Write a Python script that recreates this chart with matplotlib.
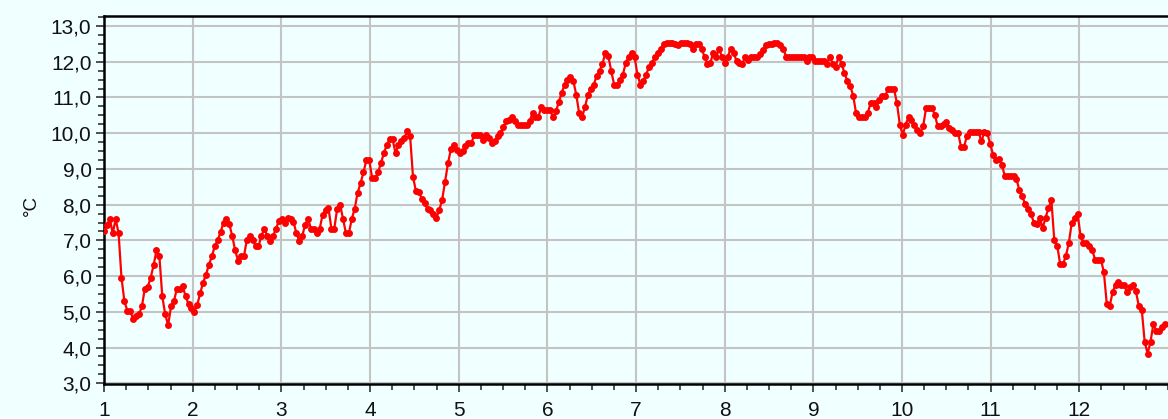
import numpy as np
import matplotlib
matplotlib.use("Agg")
import matplotlib.pyplot as plt
from matplotlib.ticker import MultipleLocator, FixedLocator, FuncFormatter

# Daily temperature values (°C), Jan 1 .. Dec 31
temps_q1 = [
    7.26, 7.42, 7.6, 7.2, 7.6, 7.2, 5.95, 5.3, 5.03, 5.03,
    4.8, 4.87, 4.93, 5.15, 5.65, 5.7, 5.95, 6.3, 6.72, 6.55,
    5.43, 4.93, 4.63, 5.15, 5.3, 5.65, 5.65, 5.72, 5.43, 5.22,
    5.1, 5.0, 5.2, 5.52, 5.82, 6.04, 6.32, 6.55, 6.84, 7.0,
    7.23, 7.5, 7.6, 7.45, 7.12, 6.72, 6.43, 6.55, 6.55, 7.02,
    7.12, 7.02, 6.84, 6.84, 7.12, 7.33, 7.12, 6.98, 7.12, 7.33,
    7.54, 7.6, 7.5, 7.63, 7.6, 7.52, 7.2, 6.99, 7.12, 7.44,
    7.6, 7.33, 7.33, 7.2, 7.33, 7.72, 7.84, 7.91, 7.33, 7.33,
    7.89, 8.0, 7.6, 7.2, 7.2, 7.6, 7.89, 8.33, 8.6, 8.9,
    9.24, 9.24, 8.74, 8.74, 8.9,
]
temps_q2 = [
    9.16, 9.44, 9.67, 9.83, 9.83, 9.44, 9.67, 9.77, 9.86, 10.05,
    9.93, 8.78, 8.38, 8.36, 8.17, 8.05, 7.87, 7.84, 7.75, 7.63,
    7.84, 8.14, 8.64, 9.16, 9.55, 9.67, 9.53, 9.44, 9.49, 9.63,
    9.72, 9.72, 9.95, 9.95, 9.95, 9.81, 9.95, 9.86, 9.72, 9.77,
    9.91, 10.0, 10.17, 10.33, 10.36, 10.45, 10.33, 10.24, 10.22, 10.22,
    10.24, 10.33, 10.56, 10.45, 10.45, 10.73, 10.66, 10.66, 10.66, 10.45,
    10.61, 10.86, 11.13, 11.36, 11.5, 11.57, 11.46, 11.08, 10.56, 10.45,
    10.73, 11.08, 11.24, 11.36, 11.6, 11.74, 11.94, 12.25, 12.16, 11.74,
    11.36, 11.36, 11.5, 11.64, 11.97, 12.14, 12.25, 12.14, 11.64, 11.36,
    11.46, 11.64,
]
temps_q3 = [
    11.86, 11.97, 12.14, 12.25, 12.35, 12.49, 12.52, 12.52, 12.52, 12.49,
    12.46, 12.52, 12.53, 12.52, 12.49, 12.37, 12.49, 12.49, 12.37, 12.14,
    11.95, 11.97, 12.25, 12.14, 12.35, 12.14, 11.97, 12.14, 12.37, 12.25,
    12.02, 11.97, 11.95, 12.14, 12.05, 12.14, 12.14, 12.14, 12.23, 12.33,
    12.46, 12.49, 12.5, 12.53, 12.52, 12.46, 12.37, 12.14, 12.14, 12.14,
    12.14, 12.14, 12.14, 12.14, 12.02, 12.14, 12.14, 12.02, 12.02, 12.02,
    12.02, 11.95, 12.14, 11.95, 11.86, 12.14, 11.95, 11.69, 11.46, 11.32,
    11.05, 10.56, 10.45, 10.45, 10.45, 10.56, 10.85, 10.85, 10.73, 10.92,
    11.05, 11.05, 11.24, 11.24, 11.24, 10.85, 10.24, 9.95, 10.24, 10.45,
    10.36, 10.24, 10.08,
]
temps_q4 = [
    10.0, 10.19, 10.7, 10.7, 10.7, 10.52, 10.19, 10.19, 10.25, 10.31,
    10.15, 10.1, 10.0, 10.0, 9.62, 9.62, 9.91, 10.03, 10.03, 10.03,
    10.03, 9.77, 10.03, 10.0, 9.7, 9.4, 9.24, 9.29, 9.12, 8.8,
    8.8, 8.8, 8.8, 8.73, 8.4, 8.24, 8.01, 7.87, 7.73, 7.5,
    7.45, 7.64, 7.34, 7.64, 7.9, 8.12, 7.0, 6.85, 6.34, 6.34,
    6.57, 6.94, 7.5, 7.62, 7.73, 7.13, 6.94, 6.94, 6.83, 6.73,
    6.46, 6.46, 6.46, 6.11, 5.22, 5.16, 5.55, 5.76, 5.83, 5.74,
    5.74, 5.55, 5.69, 5.74, 5.57, 5.16, 5.06, 4.16, 3.83, 4.16,
    4.67, 4.46, 4.46, 4.57, 4.67,
]
month_ticks = list(range(1, 13))
month_labels = [str(m) for m in month_ticks]
y_ticks = list(range(3, 14))

temps = np.array(temps_q1 + temps_q2 + temps_q3 + temps_q4)
days = np.arange(len(temps))
x = 1 + days * 12.0 / 365.0

bg = "#f0ffff"
plt.rcParams["font.family"] = ["Liberation Sans", "DejaVu Sans"]

fig = plt.figure(figsize=(11.68, 4.19), dpi=100, facecolor=bg)
ax = fig.add_axes([104 / 1168, 35 / 419, 1 - 104 / 1168, 368 / 419])
ax.set_facecolor(bg)

ax.plot(x, temps, color="#ff0000", lw=1.6, marker="o", ms=5.0,
        markeredgewidth=0, zorder=3, clip_on=True)

ax.set_xlim(1, 13)
ax.set_ylim(2.98, 13.28)

ax.xaxis.set_major_locator(FixedLocator(month_ticks))
ax.set_xticklabels(month_labels)
ax.xaxis.set_minor_locator(MultipleLocator(0.25))
ax.yaxis.set_major_locator(FixedLocator(y_ticks))
ax.yaxis.set_major_formatter(FuncFormatter(lambda v, p: f"{v:.1f}".replace(".", ",")))
ax.yaxis.set_minor_locator(MultipleLocator(0.25))

ax.grid(True, which="major", color="#c4c4c4", lw=1.5, zorder=1)
ax.tick_params(axis="both", which="major", length=6, width=1.2, color="#333333",
               labelsize=15, labelcolor="#111111")
ax.tick_params(axis="both", which="minor", length=4, width=1.2, color="#333333")
ax.tick_params(axis="y", which="major", pad=3)
ax.tick_params(axis="x", which="major", pad=6)

for side in ["left", "bottom", "top"]:
    ax.spines[side].set_linewidth(1.8)
    ax.spines[side].set_color("black")
ax.spines["right"].set_visible(False)

fig.text(31 / 1168, 1 - 205 / 419, "°C", rotation=90, fontsize=13.5,
         ha="center", va="center", color="#111111")

fig.savefig("out.png", dpi=100, facecolor=bg)
